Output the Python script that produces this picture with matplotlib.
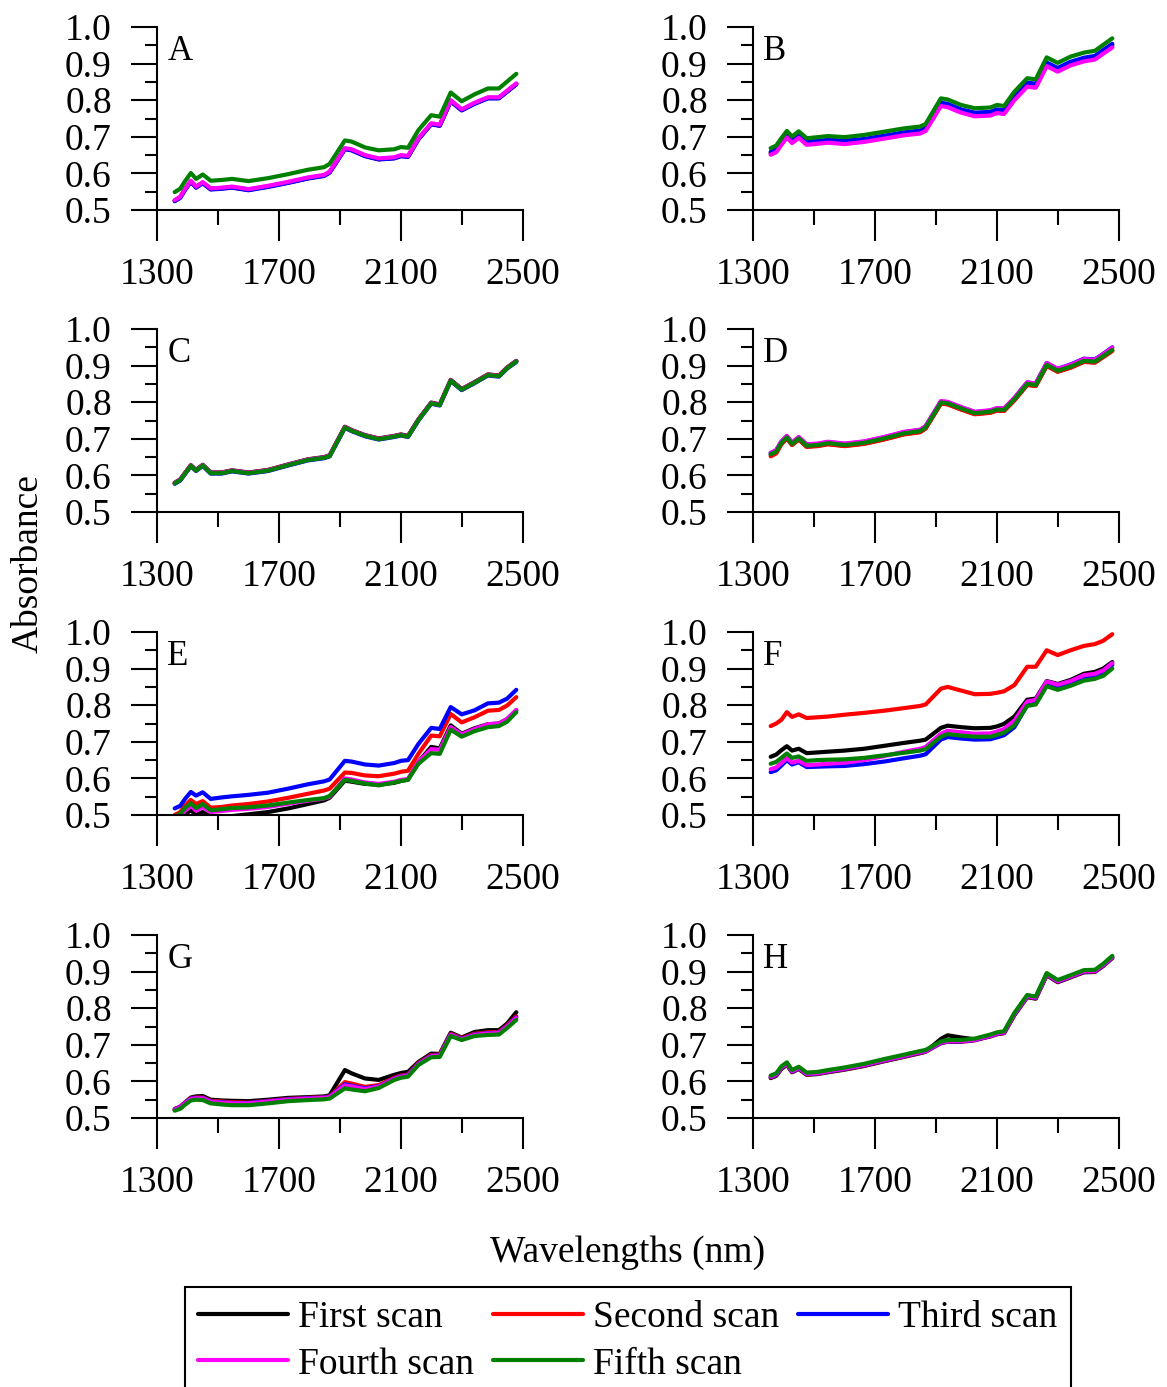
import matplotlib
matplotlib.use("Agg")
import matplotlib.pyplot as plt

plt.rcParams['font.family'] = ['Liberation Serif', 'DejaVu Serif']

# ---------------- data ----------------
WAVELENGTHS = [1358, 1376, 1393, 1411, 1428, 1450, 1476, 1512, 1546, 1600, 1664, 1730,
               1795, 1848, 1866, 1916, 1938, 1982, 2027, 2078, 2100, 2123, 2157, 2199,
               2227, 2263, 2299, 2341, 2385, 2421, 2448, 2478]

SCAN_NAMES = ["First scan", "Second scan", "Third scan", "Fourth scan", "Fifth scan"]
SCAN_COLORS = ["#000000", "#ff0000", "#0000ff", "#ff00ff", "#008000"]
PANEL_LETTERS = ["A", "B", "C", "D", "E", "F", "G", "H"]
X_MAJOR = [1300, 1700, 2100, 2500]
X_MINOR = [1500, 1900, 2300]
Y_MAJOR = [0.5, 0.6, 0.7, 0.8, 0.9, 1.0]
Y_MAJOR_LABELS = ["0.5", "0.6", "0.7", "0.8", "0.9", "1.0"]
Y_MINOR = [0.55, 0.65, 0.75, 0.85, 0.95]

A_SCANS = [
    [0.525,0.534,0.557,0.578,0.562,0.574,0.557,0.559,0.562,0.555,0.564,0.575,0.587,0.594,0.603,0.667,0.664,0.648,0.639,0.642,0.648,0.646,0.694,0.735,0.731,0.798,0.773,0.791,0.806,0.806,0.824,0.844],
    [0.526,0.535,0.558,0.578,0.562,0.575,0.558,0.560,0.562,0.556,0.565,0.575,0.587,0.594,0.603,0.667,0.664,0.648,0.639,0.642,0.648,0.646,0.694,0.735,0.731,0.797,0.773,0.791,0.806,0.806,0.824,0.844],
    [0.524,0.533,0.556,0.577,0.561,0.573,0.556,0.558,0.561,0.554,0.563,0.574,0.586,0.593,0.602,0.666,0.663,0.647,0.638,0.641,0.647,0.645,0.693,0.734,0.730,0.797,0.772,0.790,0.805,0.805,0.823,0.843],
    [0.527,0.536,0.559,0.580,0.564,0.576,0.559,0.561,0.564,0.557,0.566,0.577,0.589,0.596,0.605,0.669,0.666,0.650,0.641,0.644,0.650,0.648,0.696,0.737,0.733,0.800,0.775,0.793,0.808,0.808,0.826,0.846],
    [0.549,0.558,0.580,0.601,0.585,0.597,0.580,0.582,0.585,0.579,0.587,0.598,0.610,0.617,0.626,0.690,0.687,0.671,0.663,0.666,0.672,0.670,0.718,0.759,0.755,0.821,0.797,0.816,0.832,0.832,0.851,0.872],
]
B_SCANS = [
    [0.656,0.663,0.683,0.703,0.688,0.702,0.683,0.686,0.689,0.686,0.691,0.700,0.709,0.714,0.721,0.790,0.787,0.772,0.763,0.765,0.772,0.769,0.808,0.845,0.842,0.900,0.885,0.902,0.913,0.918,0.934,0.951],
    [0.653,0.660,0.680,0.700,0.685,0.699,0.680,0.683,0.686,0.682,0.688,0.697,0.706,0.711,0.718,0.786,0.783,0.768,0.758,0.760,0.767,0.764,0.802,0.839,0.836,0.896,0.880,0.897,0.909,0.914,0.930,0.947],
    [0.659,0.666,0.686,0.706,0.691,0.705,0.686,0.689,0.692,0.689,0.694,0.703,0.712,0.717,0.724,0.793,0.790,0.775,0.766,0.768,0.775,0.772,0.811,0.848,0.845,0.903,0.888,0.905,0.916,0.921,0.937,0.954],
    [0.651,0.658,0.678,0.698,0.683,0.697,0.678,0.681,0.684,0.680,0.686,0.695,0.704,0.709,0.716,0.784,0.781,0.766,0.756,0.758,0.765,0.762,0.800,0.837,0.834,0.893,0.878,0.895,0.906,0.911,0.927,0.944],
    [0.669,0.676,0.696,0.716,0.701,0.715,0.696,0.699,0.702,0.699,0.705,0.714,0.723,0.728,0.735,0.805,0.802,0.787,0.778,0.780,0.787,0.784,0.823,0.860,0.857,0.917,0.902,0.919,0.930,0.935,0.951,0.969],
]
C_SCANS = [
    [0.580,0.589,0.608,0.628,0.615,0.629,0.608,0.608,0.614,0.608,0.615,0.630,0.644,0.650,0.655,0.733,0.724,0.710,0.701,0.708,0.712,0.708,0.753,0.799,0.794,0.861,0.836,0.855,0.876,0.873,0.895,0.913],
    [0.579,0.588,0.607,0.627,0.614,0.628,0.607,0.607,0.613,0.607,0.614,0.629,0.643,0.649,0.654,0.732,0.723,0.709,0.700,0.707,0.711,0.707,0.752,0.798,0.793,0.860,0.835,0.854,0.875,0.872,0.894,0.912],
    [0.577,0.586,0.605,0.625,0.612,0.626,0.605,0.605,0.611,0.605,0.612,0.627,0.641,0.647,0.652,0.730,0.721,0.707,0.698,0.705,0.709,0.705,0.750,0.796,0.791,0.858,0.833,0.852,0.873,0.870,0.892,0.910],
    [0.579,0.588,0.607,0.627,0.614,0.628,0.607,0.607,0.613,0.607,0.614,0.629,0.643,0.649,0.654,0.732,0.723,0.709,0.700,0.707,0.711,0.707,0.752,0.798,0.793,0.860,0.835,0.854,0.875,0.872,0.894,0.912],
    [0.578,0.587,0.606,0.626,0.613,0.627,0.606,0.606,0.612,0.606,0.613,0.628,0.642,0.648,0.653,0.731,0.722,0.708,0.699,0.706,0.710,0.706,0.751,0.797,0.792,0.859,0.834,0.853,0.874,0.871,0.893,0.911],
]
D_SCANS = [
    [0.656,0.663,0.687,0.702,0.684,0.699,0.679,0.681,0.686,0.681,0.687,0.699,0.713,0.719,0.729,0.797,0.795,0.781,0.768,0.772,0.778,0.777,0.806,0.848,0.845,0.900,0.884,0.895,0.911,0.909,0.924,0.941],
    [0.652,0.660,0.685,0.701,0.683,0.698,0.678,0.680,0.685,0.680,0.686,0.698,0.712,0.718,0.728,0.796,0.794,0.780,0.767,0.771,0.777,0.776,0.805,0.847,0.844,0.899,0.883,0.894,0.910,0.908,0.923,0.940],
    [0.661,0.668,0.692,0.707,0.689,0.704,0.684,0.686,0.691,0.686,0.692,0.704,0.718,0.724,0.734,0.802,0.800,0.786,0.773,0.777,0.783,0.782,0.811,0.854,0.851,0.907,0.891,0.903,0.919,0.917,0.932,0.950],
    [0.662,0.669,0.693,0.708,0.690,0.705,0.685,0.687,0.692,0.687,0.693,0.705,0.719,0.725,0.735,0.803,0.801,0.787,0.774,0.778,0.784,0.783,0.812,0.854,0.851,0.907,0.891,0.902,0.918,0.916,0.931,0.949],
    [0.658,0.665,0.689,0.704,0.686,0.701,0.681,0.683,0.688,0.683,0.689,0.701,0.715,0.721,0.731,0.799,0.797,0.783,0.770,0.774,0.780,0.779,0.808,0.850,0.847,0.902,0.886,0.897,0.913,0.911,0.926,0.943],
]
E_SCANS = [
    [0.488,0.490,0.503,0.513,0.500,0.508,0.495,0.496,0.497,0.502,0.508,0.518,0.530,0.540,0.547,0.594,0.591,0.585,0.583,0.588,0.593,0.597,0.645,0.686,0.682,0.745,0.722,0.737,0.748,0.750,0.762,0.786],
    [0.500,0.508,0.527,0.541,0.530,0.538,0.520,0.522,0.526,0.530,0.537,0.547,0.558,0.567,0.572,0.616,0.615,0.608,0.606,0.613,0.618,0.621,0.667,0.717,0.715,0.776,0.753,0.767,0.785,0.787,0.799,0.822],
    [0.518,0.525,0.545,0.563,0.553,0.562,0.544,0.548,0.551,0.555,0.561,0.572,0.584,0.592,0.597,0.648,0.646,0.638,0.635,0.642,0.648,0.650,0.694,0.738,0.735,0.795,0.775,0.786,0.805,0.807,0.818,0.842],
    [0.493,0.498,0.512,0.525,0.512,0.522,0.508,0.511,0.514,0.517,0.522,0.531,0.539,0.545,0.550,0.600,0.597,0.589,0.585,0.591,0.596,0.598,0.645,0.680,0.678,0.740,0.720,0.735,0.748,0.750,0.762,0.787],
    [0.496,0.503,0.520,0.532,0.519,0.530,0.513,0.516,0.519,0.521,0.526,0.534,0.541,0.546,0.552,0.596,0.593,0.586,0.581,0.589,0.593,0.596,0.640,0.669,0.667,0.733,0.714,0.729,0.740,0.743,0.755,0.781],
]
F_SCANS = [
    [0.659,0.665,0.677,0.688,0.676,0.681,0.669,0.671,0.673,0.676,0.681,0.689,0.697,0.703,0.706,0.738,0.744,0.740,0.737,0.738,0.742,0.749,0.769,0.815,0.818,0.866,0.858,0.869,0.886,0.891,0.900,0.918],
    [0.743,0.750,0.760,0.781,0.768,0.775,0.765,0.767,0.769,0.774,0.779,0.785,0.792,0.798,0.802,0.845,0.850,0.840,0.830,0.831,0.834,0.838,0.855,0.905,0.905,0.950,0.937,0.950,0.962,0.967,0.976,0.994],
    [0.617,0.622,0.635,0.650,0.638,0.644,0.631,0.632,0.633,0.634,0.639,0.646,0.655,0.662,0.666,0.706,0.713,0.709,0.706,0.707,0.712,0.718,0.740,0.800,0.805,0.856,0.848,0.860,0.875,0.880,0.890,0.910],
    [0.625,0.630,0.642,0.655,0.643,0.648,0.636,0.638,0.640,0.643,0.650,0.661,0.673,0.681,0.686,0.722,0.730,0.726,0.722,0.723,0.728,0.735,0.758,0.810,0.815,0.865,0.856,0.866,0.882,0.886,0.895,0.915],
    [0.640,0.645,0.656,0.668,0.656,0.660,0.648,0.650,0.651,0.652,0.656,0.663,0.670,0.676,0.680,0.714,0.721,0.717,0.714,0.714,0.719,0.725,0.745,0.798,0.802,0.852,0.842,0.853,0.867,0.872,0.880,0.900],
]
G_SCANS = [
    [0.522,0.530,0.543,0.556,0.559,0.560,0.550,0.548,0.547,0.546,0.550,0.555,0.557,0.559,0.562,0.631,0.622,0.608,0.604,0.618,0.623,0.626,0.653,0.676,0.675,0.733,0.720,0.735,0.740,0.740,0.758,0.789],
    [0.525,0.531,0.543,0.554,0.556,0.556,0.547,0.545,0.543,0.542,0.547,0.552,0.555,0.557,0.559,0.598,0.594,0.585,0.590,0.610,0.616,0.619,0.650,0.672,0.673,0.730,0.718,0.730,0.734,0.735,0.753,0.778],
    [0.524,0.530,0.542,0.553,0.555,0.555,0.545,0.543,0.541,0.541,0.546,0.551,0.554,0.556,0.558,0.592,0.588,0.581,0.587,0.608,0.614,0.617,0.648,0.670,0.671,0.728,0.716,0.728,0.732,0.733,0.751,0.775],
    [0.523,0.529,0.541,0.552,0.554,0.554,0.544,0.542,0.540,0.540,0.545,0.550,0.553,0.555,0.557,0.589,0.586,0.579,0.586,0.607,0.613,0.616,0.647,0.669,0.670,0.727,0.715,0.727,0.731,0.732,0.750,0.773],
    [0.520,0.525,0.537,0.548,0.550,0.549,0.540,0.537,0.535,0.535,0.540,0.546,0.549,0.551,0.553,0.581,0.578,0.573,0.582,0.604,0.610,0.613,0.645,0.666,0.667,0.724,0.713,0.724,0.727,0.728,0.746,0.768],
]
H_SCANS = [
    [0.609,0.615,0.634,0.645,0.625,0.634,0.618,0.620,0.625,0.632,0.642,0.655,0.667,0.677,0.681,0.716,0.726,0.720,0.715,0.723,0.729,0.732,0.781,0.830,0.826,0.890,0.871,0.884,0.898,0.899,0.915,0.937],
    [0.611,0.617,0.636,0.647,0.626,0.635,0.619,0.621,0.626,0.633,0.643,0.656,0.668,0.678,0.681,0.704,0.708,0.708,0.712,0.723,0.729,0.732,0.782,0.831,0.827,0.891,0.872,0.885,0.899,0.900,0.916,0.938],
    [0.612,0.618,0.637,0.648,0.627,0.636,0.620,0.622,0.627,0.634,0.644,0.657,0.669,0.679,0.682,0.705,0.709,0.709,0.713,0.724,0.730,0.733,0.783,0.832,0.828,0.892,0.873,0.886,0.900,0.901,0.917,0.939],
    [0.613,0.619,0.638,0.649,0.628,0.637,0.621,0.623,0.628,0.635,0.645,0.658,0.670,0.680,0.683,0.706,0.710,0.710,0.714,0.725,0.731,0.734,0.784,0.833,0.829,0.893,0.874,0.887,0.901,0.902,0.918,0.940],
    [0.616,0.622,0.641,0.652,0.631,0.640,0.624,0.626,0.631,0.638,0.648,0.661,0.673,0.683,0.686,0.709,0.713,0.713,0.717,0.728,0.734,0.737,0.787,0.836,0.832,0.896,0.877,0.890,0.904,0.905,0.921,0.943],
]

PANELS = [A_SCANS, B_SCANS, C_SCANS, D_SCANS, E_SCANS, F_SCANS, G_SCANS, H_SCANS]

# ---------------- figure ----------------
W_PX, H_PX = 1167, 1387
fig = plt.figure(figsize=(W_PX / 100, H_PX / 100), dpi=100)

col_left_px = [157, 753]
row_top_px = [27, 329, 632, 935]
ax_w_px, ax_h_px = 366, 183

TICK_FS = 27
lines_for_legend = []
for i, scans in enumerate(PANELS):
    r, c = divmod(i, 2)
    left = col_left_px[c] / W_PX
    bottom = 1 - (row_top_px[r] + ax_h_px) / H_PX
    ax = fig.add_axes([left, bottom, ax_w_px / W_PX, ax_h_px / H_PX])
    for k, vals in enumerate(scans):
        ln, = ax.plot(WAVELENGTHS, vals, color=SCAN_COLORS[k], lw=3.0,
                      solid_joinstyle='round', solid_capstyle='round',
                      label=SCAN_NAMES[k])
        if i == 0:
            lines_for_legend.append(ln)
    ax.set_xlim(1300, 2500)
    ax.set_ylim(0.5, 1.0)
    ax.spines['top'].set_visible(False)
    ax.spines['right'].set_visible(False)
    ax.spines['left'].set_linewidth(1.5)
    ax.spines['bottom'].set_linewidth(1.5)
    ax.set_xticks(X_MAJOR)
    ax.set_xticks(X_MINOR, minor=True)
    ax.set_yticks(Y_MAJOR)
    ax.set_yticklabels(Y_MAJOR_LABELS)
    ax.set_yticks(Y_MINOR, minor=True)
    ax.tick_params(axis='x', which='major', direction='out', length=22, width=1.5,
                   labelsize=TICK_FS, pad=12)
    ax.tick_params(axis='x', which='minor', direction='out', length=10.5, width=1.5)
    ax.tick_params(axis='y', which='major', direction='out', length=18.5, width=1.5,
                   labelsize=TICK_FS, pad=14)
    ax.tick_params(axis='y', which='minor', direction='out', length=9, width=1.5)
    ax.text(0.028, 0.865, PANEL_LETTERS[i], transform=ax.transAxes,
            fontsize=25, ha='left', va='center')

fig.text(28 / W_PX, 1 - 564 / H_PX, "Absorbance", rotation=90, fontsize=27,
         ha='center', va='center')
fig.text(628 / W_PX, 1 - 1253 / H_PX, "Wavelengths (nm)", fontsize=27,
         ha='center', va='center')

# legend filled column-wise by matplotlib; reorder so rows read First..Third / Fourth, Fifth
LEGEND_ORDER = [0, 3, 1, 4, 2]
leg = fig.legend(handles=[lines_for_legend[j] for j in LEGEND_ORDER],
                 labels=[SCAN_NAMES[j] for j in LEGEND_ORDER], ncol=3,
                 loc='upper left', bbox_to_anchor=(185 / W_PX, 1 - 1287 / H_PX),
                 bbox_transform=fig.transFigure, borderaxespad=0,
                 fontsize=27, frameon=True, fancybox=False, edgecolor='black',
                 framealpha=1, handlelength=2.4, handletextpad=0.27,
                 columnspacing=0.5, labelspacing=0.33, borderpad=0.35)
leg.get_frame().set_linewidth(1.5)
for h in leg.legend_handles:
    h.set_linewidth(3)

fig.savefig("out.png", dpi=100)
